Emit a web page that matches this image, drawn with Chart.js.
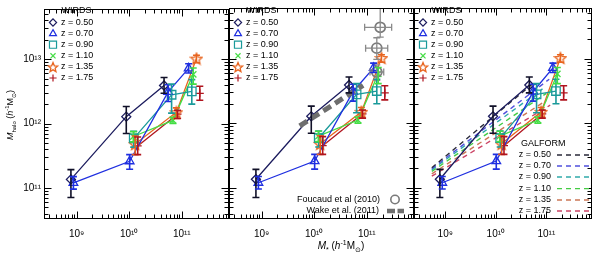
<!DOCTYPE html>
<html>
<head>
<meta charset="utf-8">
<script src="https://cdn.jsdelivr.net/npm/chart.js@4.4.0/dist/chart.umd.min.js"></script>
<style>
body { margin: 0; background: #fff; }
#wrap { position: relative; width: 600px; height: 254px; }
#wrap canvas { position: absolute; left: 0; top: 0; }
</style>
</head>
<body>
<div id="wrap">
  <canvas id="p1" width="600" height="254"></canvas>
  <canvas id="p2" width="600" height="254"></canvas>
  <canvas id="p3" width="600" height="254"></canvas>
</div>
<script>
// axis ranges and labelled decades
var xMin = 2.4e8, xMax = 7.9e11;
var yMin = 3.3e10, yMax = 6e13;
var xDecades = [1e9, 1e10, 1e11];
var yDecades = [1e11, 1e12, 1e13];

var zLabels = ['z = 0.50', 'z = 0.70', 'z = 0.90', 'z = 1.10', 'z = 1.35', 'z = 1.75'];
var zColors = ['#1c1c5e', '#1f2fe0', '#1a9a9a', '#44dd44', '#e8641e', '#b0141e'];
var errColors = ['#101028', '#1f2fe0', '#1a9a9a', '#44dd44', '#e8641e', '#b0141e'];

// WIRDS: stellar mass, halo mass and halo mass error range (h^-1 Msun)
var mStar = [
  [7.8e8, 8.8e9, 4.6e10],
  [8.7e8, 1.02e10, 5.5e10, 1.35e11],
  [1.22e10, 6.4e10, 1.55e11],
  [1.2e10, 6.8e10, 1.65e11],
  [1.3e10, 7.9e10, 1.9e11],
  [1.45e10, 8.3e10, 2.2e11]
];
var mHalo = [
  [1.36e11, 1.28e12, 3.9e12],
  [1.2e11, 2.6e11, 3.1e12, 7.2e12],
  [5.9e11, 2.8e12, 3.15e12],
  [6.3e11, 1.12e12, 5.8e12],
  [4.8e11, 1.5e12, 1.02e13],
  [4.5e11, 1.4e12, 2.95e12]
];
var mHaloLo = [
  [7.1e10, 7e11, 2.95e12],
  [9.6e10, 1.95e11, 2.2e12, 6.1e12],
  [4.3e11, 1.45e12, 2.0e12],
  [5.2e11, 1.0e12, 4.1e12],
  [3.3e11, 1.2e12, 8.8e12],
  [3.3e11, 1.2e12, 2.3e12]
];
var mHaloHi = [
  [1.93e11, 1.84e12, 5.2e12],
  [1.5e11, 3.3e11, 4.0e12, 8.5e12],
  [7.6e11, 4.1e12, 4.8e12],
  [7.5e11, 1.25e12, 7.3e12],
  [6.4e11, 1.75e12, 1.15e13],
  [6.2e11, 1.6e12, 3.8e12]
];
// how many leading points of each series are joined by a line
var joined = [3, 4, 3, 3, 3, 2];

// Foucaud et al (2010)
var fouStar = [1.8e11, 1.55e11, 1.55e11];
var fouStarLo = [9.1e10, 9.5e10, 1.15e11];
var fouStarHi = [2.97e11, 2.5e11, 2.1e11];
var fouHalo = [3.05e13, 1.45e13, 6.2e12];
var fouHaloLo = [2.15e13, 9.7e12, 4.6e12];
var fouHaloHi = [6.5e13, 2.1e13, 8e12];

// Wake et al. (2011)
var wakeStar = [5.3e9, 2.2e10, 8.5e10];
var wakeHalo = [9.1e11, 1.9e12, 3.85e12];

// GALFORM predictions (start and end of each line)
var galStar = [
  [5.4e8, 5.9e10],
  [5.4e8, 1.14e11],
  [5.4e8, 8.4e10],
  [5.4e8, 1.0e11],
  [5.4e8, 1.0e11],
  [5.4e8, 1.19e11]
];
var galHalo = [
  [2.05e11, 4.35e12],
  [1.98e11, 4.8e12],
  [1.9e11, 3.4e12],
  [1.8e11, 2.9e12],
  [1.65e11, 2.25e12],
  [1.52e11, 1.9e12]
];
var galColors = ['#2a2a3a', '#5050dd', '#30aaaa', '#44cc44', '#cc7755', '#cc4466'];

var fam = '"Liberation Sans", Arial, sans-serif';
Chart.defaults.font.family = fam;

function starImage(color, size) {
  var c = document.createElement('canvas');
  c.width = c.height = size;
  var g = c.getContext('2d');
  var r = size / 2 - 1, ri = r * 0.45, cx = size / 2, cy = size / 2 + 0.6;
  g.beginPath();
  for (var k = 0; k < 10; k++) {
    var a = -Math.PI / 2 + k * Math.PI / 5;
    var rr = k % 2 ? ri : r;
    g.lineTo(cx + rr * Math.cos(a), cy + rr * Math.sin(a));
  }
  g.closePath();
  g.strokeStyle = color;
  g.lineWidth = 1.3;
  g.stroke();
  return c;
}

var markers = [
  {style: 'rectRot', r: 4.5, lr: 3.6},
  {style: 'triangle', r: 5, lr: 4},
  {style: 'rect', r: 6, lr: 5},
  {style: 'crossRot', r: 4.5, lr: 3.6},
  {style: starImage(zColors[4], 14), r: 7, lr: 6, legendImg: starImage(zColors[4], 12)},
  {style: 'cross', r: 4, lr: 3.6}
];

function wirdsSets() {
  return zLabels.map(function (lab, i) {
    var n = joined[i];
    return {
      label: lab,
      data: mStar[i].map(function (x, j) { return {x: x, y: mHalo[i][j]}; }),
      errLo: mHaloLo[i], errHi: mHaloHi[i], errColor: errColors[i],
      showLine: true,
      borderColor: zColors[i], backgroundColor: 'rgba(0,0,0,0)',
      borderWidth: 1.3,
      pointStyle: markers[i].style, pointRadius: markers[i].r,
      pointBorderWidth: 1.3,
      segment: {borderColor: function (c) { return c.p1DataIndex >= n ? 'rgba(0,0,0,0)' : undefined; }}
    };
  });
}

var sup = {9: '\u2079', 10: '\u00b9\u2070', 11: '\u00b9\u00b9', 12: '\u00b9\u00b2', 13: '\u00b9\u00b3'};
function decadeLabel(v) { return '10' + sup[Math.round(Math.log10(v))]; }
function fixedTicks(list) {
  return function (scale) { scale.ticks = list.map(function (v) { return {value: v}; }); };
}

// error bars, drawn through the chart's own scales
var errorBars = {
  id: 'errorBars',
  afterDatasetsDraw: function (chart) {
    var ctx = chart.ctx, a = chart.chartArea, xs = chart.scales.x, ys = chart.scales.y;
    ctx.save();
    ctx.beginPath();
    ctx.rect(a.left, a.top, a.right - a.left, a.bottom - a.top);
    ctx.clip();
    chart.data.datasets.forEach(function (ds) {
      if (!ds.errLo) return;
      ctx.strokeStyle = ds.errColor || ds.borderColor;
      ctx.lineWidth = ds.errWidth || 1.6;
      ds.data.forEach(function (p, j) {
        var px = xs.getPixelForValue(p.x);
        var y1 = ys.getPixelForValue(ds.errLo[j]), y2 = ys.getPixelForValue(ds.errHi[j]);
        ctx.beginPath();
        ctx.moveTo(px, y1); ctx.lineTo(px, y2);
        ctx.moveTo(px - 3.5, y1); ctx.lineTo(px + 3.5, y1);
        ctx.moveTo(px - 3.5, y2); ctx.lineTo(px + 3.5, y2);
        if (ds.xErrLo) {
          var py = ys.getPixelForValue(p.y);
          var x1 = xs.getPixelForValue(ds.xErrLo[j]), x2 = xs.getPixelForValue(ds.xErrHi[j]);
          ctx.moveTo(x1, py); ctx.lineTo(x2, py);
          ctx.moveTo(x1, py - 3.5); ctx.lineTo(x1, py + 3.5);
          ctx.moveTo(x2, py - 3.5); ctx.lineTo(x2, py + 3.5);
        }
        ctx.stroke();
      });
    });
    ctx.restore();
  }
};

// box with inward major and minor ticks on all four sides
var frame = {
  id: 'frame',
  afterDraw: function (chart) {
    var ctx = chart.ctx, a = chart.chartArea, xs = chart.scales.x, ys = chart.scales.y;
    var L = Math.round(a.left) + 0.5, R = Math.round(a.right) - 0.5;
    var T = Math.round(a.top) + 0.5, B = Math.round(a.bottom) - 0.5;
    ctx.save();
    ctx.strokeStyle = '#000';
    ctx.lineWidth = 1;
    ctx.strokeRect(L, T, R - L, B - T);
    ctx.beginPath();
    for (var d = 8; d <= 13; d++) {
      for (var m = 1; m <= 9; m++) {
        var v = m * Math.pow(10, d), len = m === 1 ? 7 : 4;
        if (v >= xMin && v <= xMax) {
          var px = Math.round(xs.getPixelForValue(v)) + 0.5;
          ctx.moveTo(px, B); ctx.lineTo(px, B - len);
          ctx.moveTo(px, T); ctx.lineTo(px, T + len);
        }
        if (v >= yMin && v <= yMax) {
          var py = Math.round(ys.getPixelForValue(v)) + 0.5;
          ctx.moveTo(L, py); ctx.lineTo(L + len, py);
          ctx.moveTo(R, py); ctx.lineTo(R - len, py);
        }
      }
    }
    ctx.stroke();
    ctx.restore();
  }
};

// WIRDS key in the upper left of each panel
var wirdsKey = {
  id: 'wirdsKey',
  afterDraw: function (chart) {
    var ctx = chart.ctx, a = chart.chartArea;
    var x0 = a.left;
    ctx.save();
    ctx.fillStyle = '#000';
    ctx.font = '9px ' + fam;
    ctx.textBaseline = 'middle';
    ctx.fillText('WIRDS', x0 + 17.5, 11);
    zLabels.forEach(function (lab, i) {
      var y = 22.5 + i * 11.1;
      ctx.fillStyle = '#000';
      ctx.fillText(lab, x0 + 17, y);
      ctx.strokeStyle = zColors[i];
      ctx.fillStyle = 'rgba(0,0,0,0)';
      ctx.lineWidth = 1.2;
      Chart.helpers.drawPoint(ctx, {
        pointStyle: markers[i].legendImg || markers[i].style,
        radius: markers[i].lr, borderWidth: 1.2, rotation: 0
      }, x0 + 9, y);
    });
    ctx.restore();
  }
};

function richText(ctx, parts, x, y, align) {
  var w = 0;
  parts.forEach(function (p) { ctx.font = p[1]; w += ctx.measureText(p[0]).width; });
  var cx = align === 'center' ? x - w / 2 : x;
  parts.forEach(function (p) {
    ctx.font = p[1];
    ctx.fillText(p[0], cx, y + (p[2] || 0));
    cx += ctx.measureText(p[0]).width;
  });
}

function titleParts(sub, size) {
  var n = size + 'px ' + fam, it = 'italic ' + size + 'px ' + fam, s = Math.round(size * 0.7) + 'px ' + fam;
  return [['M', it], [sub, s, 2.5], [' (', n], ['h', it], ['-1', s, -4], ['M', n], ['\u2299', s, 2.5], [')', n]];
}

var axisTitles = {
  id: 'axisTitles',
  afterDraw: function (chart) {
    var ctx = chart.ctx;
    ctx.save();
    ctx.fillStyle = '#000';
    ctx.textBaseline = 'alphabetic';
    ctx.translate(13, 115);
    ctx.rotate(-Math.PI / 2);
    richText(ctx, titleParts('halo', 9), 0, 0, 'center');
    ctx.restore();
    ctx.save();
    ctx.fillStyle = '#000';
    richText(ctx, titleParts('*', 10), 341, 249, 'center');
    ctx.restore();
  }
};

var refKey = {
  id: 'refKey',
  afterDraw: function (chart) {
    var ctx = chart.ctx;
    ctx.save();
    ctx.fillStyle = '#000';
    ctx.font = '9px ' + fam;
    ctx.textBaseline = 'middle';
    ctx.textAlign = 'right';
    ctx.fillText('Foucaud et al (2010)', 380, 199.5);
    ctx.fillText('Wake et al. (2011)', 379, 211);
    ctx.strokeStyle = '#7a7a7a';
    ctx.lineWidth = 1.6;
    ctx.beginPath();
    ctx.arc(395, 199.5, 4.2, 0, Math.PI * 2);
    ctx.stroke();
    ctx.strokeStyle = '#6e6e6e';
    ctx.lineWidth = 4.5;
    ctx.setLineDash([8, 2.5]);
    ctx.beginPath();
    ctx.moveTo(387, 211); ctx.lineTo(404, 211);
    ctx.stroke();
    ctx.restore();
  }
};

var galKey = {
  id: 'galKey',
  afterDraw: function (chart) {
    var ctx = chart.ctx;
    ctx.save();
    ctx.fillStyle = '#000';
    ctx.font = '9px ' + fam;
    ctx.textBaseline = 'middle';
    ctx.fillText('GALFORM', 521, 144);
    ctx.textAlign = 'right';
    var ys = [155, 166, 177, 188.7, 200, 211];
    zLabels.forEach(function (lab, i) {
      ctx.fillText(lab, 551, ys[i]);
      ctx.strokeStyle = galColors[i];
      ctx.lineWidth = 1.3;
      ctx.setLineDash([5, 4]);
      ctx.beginPath();
      ctx.moveTo(557, ys[i]); ctx.lineTo(590, ys[i]);
      ctx.stroke();
    });
    ctx.restore();
  }
};

function panelOptions(left, right, yLabels) {
  return {
    responsive: false,
    animation: false,
    events: [],
    layout: {padding: {left: yLabels ? 0 : left, right: 600 - right, top: 2, bottom: 0}},
    plugins: {legend: {display: false}, tooltip: {enabled: false}},
    scales: {
      x: {
        type: 'logarithmic', min: xMin, max: xMax,
        grid: {display: false, drawTicks: false}, border: {display: false},
        afterBuildTicks: fixedTicks(xDecades),
        afterFit: function (s) { s.height = 35; },
        ticks: {callback: decadeLabel, color: '#000', font: {size: 10}, padding: 9, maxRotation: 0, autoSkip: false}
      },
      y: {
        type: 'logarithmic', min: yMin, max: yMax,
        grid: {display: false, drawTicks: false}, border: {display: false},
        afterBuildTicks: fixedTicks(yDecades),
        afterFit: function (s) { s.width = yLabels ? 44 : 0; },
        ticks: {display: yLabels, callback: decadeLabel, color: '#000', font: {size: 10}, padding: 3, autoSkip: false}
      }
    }
  };
}

// panel 1: WIRDS only
new Chart(document.getElementById('p1'), {
  type: 'scatter',
  data: {datasets: wirdsSets()},
  options: panelOptions(44, 229, true),
  plugins: [errorBars, frame, wirdsKey, axisTitles]
});

// panel 2: WIRDS with Foucaud and Wake
var fouSet = {
  label: 'Foucaud et al (2010)',
  data: fouStar.map(function (x, j) { return {x: x, y: fouHalo[j]}; }),
  errLo: fouHaloLo, errHi: fouHaloHi, xErrLo: fouStarLo, xErrHi: fouStarHi,
  errColor: '#8a8a8a', errWidth: 1.3,
  borderColor: '#7a7a7a', backgroundColor: 'rgba(0,0,0,0)',
  pointStyle: 'circle', pointRadius: 5, pointBorderWidth: 1.8
};
var wakeSet = {
  label: 'Wake et al. (2011)',
  data: wakeStar.map(function (x, j) { return {x: x, y: wakeHalo[j]}; }),
  showLine: true, borderColor: '#6e6e6e', borderWidth: 5, borderDash: [9, 5],
  pointRadius: 0
};
new Chart(document.getElementById('p2'), {
  type: 'scatter',
  data: {datasets: [fouSet, wakeSet].concat(wirdsSets())},
  options: panelOptions(229, 414, false),
  plugins: [errorBars, frame, wirdsKey, refKey]
});

// panel 3: WIRDS with GALFORM
var galSets = galStar.map(function (xs, i) {
  return {
    label: 'GALFORM ' + zLabels[i],
    data: xs.map(function (x, j) { return {x: x, y: galHalo[i][j]}; }),
    showLine: true, borderColor: galColors[i], borderWidth: 1.4, borderDash: [5, 4],
    pointRadius: 0
  };
});
new Chart(document.getElementById('p3'), {
  type: 'scatter',
  data: {datasets: wirdsSets().concat(galSets)},
  options: panelOptions(414, 598, false),
  plugins: [errorBars, frame, wirdsKey, galKey]
});
</script>
</body>
</html>
